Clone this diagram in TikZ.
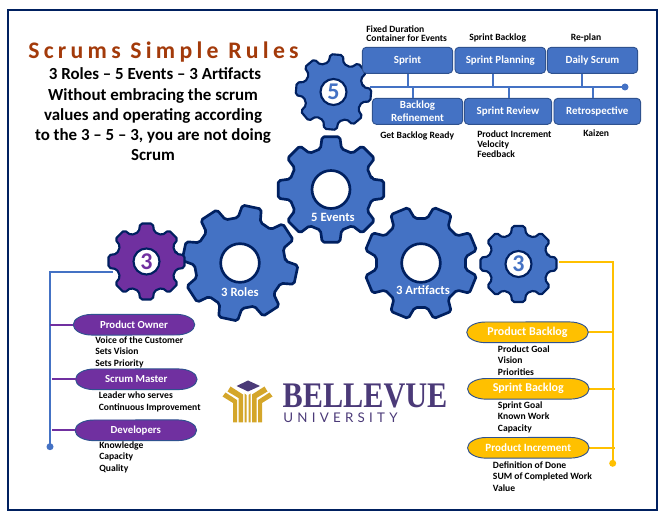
\documentclass[tikz,border=0pt]{standalone}
\usepackage{fontspec}
\setmainfont{Carlito}
\newfontfamily\titlefont[LetterSpace=18]{Carlito}
\newfontfamily\serifmark{Liberation Serif}
\newfontfamily\sansmark[LetterSpace=32]{Lato}
\usetikzlibrary{calc}
\definecolor{navy}{HTML}{002060}
\definecolor{gearblue}{HTML}{4472C4}
\definecolor{boxedge}{HTML}{2F528F}
\definecolor{royal}{HTML}{7030A0}
\definecolor{gold}{HTML}{FFC000}
\definecolor{rust}{HTML}{A33A0A}
\definecolor{markpurple}{HTML}{4B3A78}
\definecolor{markgold}{HTML}{D4A62A}
% eight-tooth gear outline: centre, tip radius, root radius, rotation
\newcommand{\gearpath}[4]{%
  \path[gearline] ($(#1)+(#4-14.5:#3)$)
    \foreach \a in {0,45,...,315} {
      -- ($(#1)+(#4+\a-14.5:#3)$) -- ($(#1)+(#4+\a-9.5:#2)$) -- ($(#1)+(#4+\a+9.5:#2)$) -- ($(#1)+(#4+\a+14.5:#3)$)
    } -- cycle;}
% flattened oval label: name, x, y, fill, font, text
\newcommand{\ovallabel}[6]{%
  \path[draw=boxedge,line width=.7pt,fill=#4] (#2-42.1,#3-10.3)
    arc[start angle=90,end angle=270,x radius=14pt,y radius=7.75pt]
    -- (#2+42.1,#3+10.3)
    arc[start angle=270,end angle=450,x radius=14pt,y radius=7.75pt] -- cycle;
  \node[text=white,inner sep=0pt,font=#5] (#1) at (#2,#3) {#6};}
\tikzset{
  gearline/.style={draw=navy,line width=2pt,fill=gearblue,rounded corners=1.5pt,line join=round},
  smallgear/.style={gearline/.append style={line width=1.6pt}},
  hole/.style={circle,draw=navy,fill=white,line width=2pt,inner sep=0pt,minimum size=#1},
  digithole/.style={circle,draw=navy,fill=white,line width=1.6pt,inner sep=0pt,minimum size=19.5pt,font=\bfseries\fontsize{18}{18}\selectfont},
  gearlabel/.style={text=white,font=\bfseries\fontsize{9.5}{11}\selectfont,inner sep=0pt},
  eventbox/.style={draw=boxedge,line width=.7pt,fill=gearblue,rounded corners=3pt,text=white,align=center,inner sep=0pt,
    font=\bfseries\fontsize{8.2}{9.5}\selectfont,minimum height=19.5pt},
  note/.style={anchor=north west,align=left,inner sep=0pt,text=black,font=\bfseries\fontsize{7.2}{8.7}\selectfont},
  bluewire/.style={draw=gearblue,line width=1.5pt},
  purplewire/.style={draw=royal,line width=1.5pt},
  goldwire/.style={draw=gold,line width=1.5pt},
}
\begin{document}
\begin{tikzpicture}[x=.75pt,y=-.75pt]
\useasboundingbox (0,0) rectangle (664,516);
% outer frame
\node[draw=navy,line width=1.5pt,minimum width=486.5pt,minimum height=374.3pt,inner sep=0pt] (frame) at (332.4,260) {};

% heading block
\node[text=rust,inner sep=0pt,font=\titlefont\bfseries\fontsize{17.8}{20}\selectfont] (heading) at (163.5,52) {Scrums Simple Rules};
\node[align=center,inner sep=0pt,font=\bfseries\fontsize{12.7}{15.2}\selectfont] (intro) at (153,114.5)
  {\hspace*{3pt}3 Roles -- 5 Events -- 3 Artifacts\\
   Without embracing the scrum\\
   values and operating according\\
   to the 3 -- 5 -- 3, you are not doing\\
   Scrum};

% connectors that run under the gears
\coordinate (roleTop) at (113,271.7);
\coordinate (roleCorner) at (50,271.7);
\coordinate (roleEnd) at (50,446.7);
\draw[bluewire] (roleTop) -- (roleCorner) -- (roleEnd);
\fill[gearblue] (roleEnd) circle (3.5);

% gears, drawn from the back
\coordinate (cEvents) at (331,189.5);
\coordinate (cRoles) at (240,263);
\coordinate (cArtifacts) at (421,263);
\coordinate (cFive) at (333.5,92);
\coordinate (cPurple) at (146.5,261.5);
\coordinate (cBlue) at (518.5,264);
\gearpath{cEvents}{53.5}{42}{0}
\gearpath{cRoles}{58}{45.5}{12}
\gearpath{cArtifacts}{57}{45}{22.5}
\begin{scope}[smallgear]
\gearpath{cFive}{38}{30}{5}
\gearpath{cBlue}{38.5}{30.5}{0}
\begin{scope}[gearline/.append style={fill=royal}]
\gearpath{cPurple}{38.5}{30.5}{0}
\end{scope}
\end{scope}

\node[hole=28.5pt] (hEvents) at (cEvents) {};
\node[hole=29pt] (hRoles) at (cRoles) {};
\node[hole=29pt] (hArtifacts) at (cArtifacts) {};
\node[digithole,text=gearblue] (hFive) at (cFive) {5};
\node[digithole,text=royal] (hPurple) at (cPurple) {3};
\node[digithole,text=gearblue] (hBlue) at (cBlue) {3};

\node[gearlabel] (lEvents) at (333,217) {5 Events};
\node[gearlabel] (lRoles) at (240,292) {3 Roles};
\node[gearlabel] (lArtifacts) at (423,290) {3 Artifacts};

% events row
\coordinate (busStart) at (370,87);
\coordinate (busEnd) at (625,87);
\node[eventbox,minimum width=67.8pt] (sprint) at (407.5,60.3) {Sprint};
\node[eventbox,minimum width=68pt] (planning) at (500.3,60.3) {Sprint Planning};
\node[eventbox,minimum width=67.8pt] (daily) at (592.5,60.3) {Daily Scrum};
\node[eventbox,minimum width=67.8pt] (refine) at (417.5,111.3) {Backlog\\Refinement};
\node[eventbox,minimum width=65.5pt] (review) at (508,111.3) {Sprint Review};
\node[eventbox,minimum width=65pt] (retro) at (597.3,111.3) {Retrospective};
\draw[bluewire] (busStart) -- (busEnd);
\fill[gearblue] (busEnd) circle (3.5);
\draw[bluewire] ($(sprint.south)+(.5,0)$) -- ($(sprint.south)+(.5,13.7)$);
\draw[bluewire] ($(planning.south)+(-7,0)$) -- ($(planning.south)+(-7,13.7)$);
\draw[bluewire] ($(daily.south)+(-10.5,0)$) -- ($(daily.south)+(-10.5,13.7)$);
\draw[bluewire] ($(refine.north)+(-4.5,0)$) -- ($(refine.north)+(-4.5,-11.3)$);
\draw[bluewire] ($(review.north)+(1,0)$) -- ($(review.north)+(1,-11.3)$);
\draw[bluewire] ($(retro.north)+(-4.5,0)$) -- ($(retro.north)+(-4.5,-11.3)$);

\node[note,font=\bfseries\fontsize{7.2}{6.9}\selectfont] (nSprint) at (366,25) {Fixed Duration\\Container for Events};
\node[note] (nPlanning) at (469,34) {Sprint Backlog};
\node[note] (nDaily) at (570.5,33.5) {Re-plan};
\node[note] (nRefine) at (380,132) {Get Backlog Ready};
\node[note,font=\bfseries\fontsize{7.2}{7.5}\selectfont] (nReview) at (477,131) {Product Increment\\Velocity\\Feedback};
\node[note] (nRetro) at (583,130) {Kaizen};

% roles column
\ovallabel{owner}{134}{324.7}{royal}{\bfseries\fontsize{8.1}{9}\selectfont}{Product Owner}
\ovallabel{master}{136.3}{379.3}{royal}{\bfseries\fontsize{8.1}{9}\selectfont}{Scrum Master}
\ovallabel{devs}{135.8}{430.3}{royal}{\bfseries\fontsize{8.1}{9}\selectfont}{Developers}
\draw[purplewire] (roleCorner |- owner) -- (73,324.7);
\draw[purplewire] ($(roleCorner |- master)+(2,0)$) -- (76,379.3);
\draw[purplewire] ($(roleCorner |- devs)+(2,0)$) -- (75,430.3);
\node[note] (nOwner) at (95,336) {Voice of the Customer\\Sets Vision\\Sets Priority};
\node[note,font=\bfseries\fontsize{7.2}{9}\selectfont] (nMaster) at (98.5,391) {Leader who serves\\Continuous Improvement};
\node[note] (nDevs) at (99,441) {Knowledge\\Capacity\\Quality};

% artifacts column
\coordinate (artTop) at (559.3,262.3);
\coordinate (artCorner) at (612.7,262.3);
\coordinate (artEnd) at (612.7,463.3);
\draw[goldwire] (artTop) -- (artCorner) -- (artEnd);
\fill[gold] (artEnd) circle (3.5);
\draw[goldwire] (587.7,332.3) -- (612.7,332.3);
\draw[goldwire] (588.3,388.8) -- (614.7,388.8);
\draw[goldwire] (588.3,447.8) -- (614.7,447.8);
\ovallabel{pb}{527.5}{332.3}{gold}{\bfseries\fontsize{9}{10}\selectfont}{Product Backlog}
\ovallabel{sb}{528.3}{388.8}{gold}{\bfseries\fontsize{9}{10}\selectfont}{Sprint Backlog}
\ovallabel{pi}{528.3}{447.8}{gold}{\bfseries\fontsize{8.3}{10}\selectfont}{Product Increment}
\node[note] (nPb) at (497.7,345) {Product Goal\\Vision\\Priorities};
\node[note] (nSb) at (497.7,401) {Sprint Goal\\Known Work\\Capacity};
\node[note] (nPi) at (492.7,461) {Definition of Done\\SUM of Completed Work\\Value};

% university mark
\fill[markpurple] (236.5,386) -- (248,380.5) -- (260,386) -- (248,391.5) -- cycle;
\foreach \side in {1,-1} {
  \begin{scope}[shift={(247.5,0)},xscale=\side]
    \fill[markgold] (1,395) -- (3,393.5) -- (3,422.5) -- (1,422.5) -- cycle;
    \fill[markgold] (17,386.5) -- (4.5,394.5) -- (4.5,422.5) -- (9,422.5) -- (9,398) -- (20,391.5) -- cycle;
    \fill[markgold] (22,392.5) -- (10.5,400) -- (10.5,422.5) -- (14.5,422.5) -- (14.5,403) -- (25,396.5) -- cycle;
  \end{scope}
}
\node[text=markpurple,inner sep=0pt,anchor=base west,xscale=.84,font=\serifmark\bfseries\fontsize{27}{28}\selectfont] (wordmark) at (282.5,407) {BELLEVUE};
\node[text=markpurple,inner sep=0pt,anchor=base west,font=\sansmark\fontsize{10}{12}\selectfont] (subword) at (283,423) {UNIVERSITY};
\end{tikzpicture}
\end{document}
